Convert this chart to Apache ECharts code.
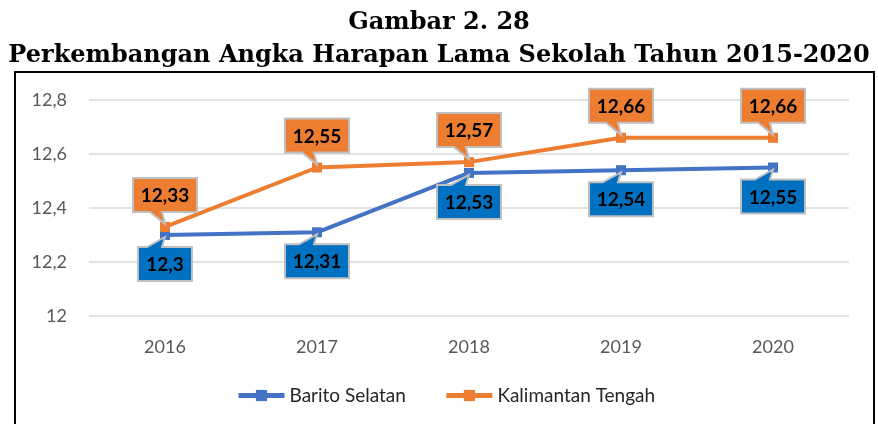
<!DOCTYPE html>
<html>
<head>
<meta charset="utf-8">
<script src="https://cdn.jsdelivr.net/npm/echarts@6/dist/echarts.min.js"></script>
<style>
  html, body { margin: 0; padding: 0; background: #fff; }
  #chart { width: 878px; height: 424px; }
</style>
</head>
<body>
<div id="chart"></div>
<script>
// data
var years = ["2016", "2017", "2018", "2019", "2020"];
var baritoSelatan = [12.3, 12.31, 12.53, 12.54, 12.55];
var kalteng = [12.33, 12.55, 12.57, 12.66, 12.66];
var seriesNames = ["Barito Selatan", "Kalimantan Tengah"];
var titleLines = ["Gambar 2. 28", "Perkembangan Angka Harapan Lama Sekolah Tahun 2015-2020"];

var BLUE_LINE = "#4472C4";
var BLUE_BOX = "#0070C0";
var ORANGE = "#ED7D31";

// comma as decimal sign
function fmt(v) {
  return String(v).replace(".", ",");
}

// callout boxes (excel style), drawn thru the chart coords
function callout(fill, above) {
  return function (params, api) {
    var val = api.value(1);
    var pt = api.coord([api.value(0), val]);
    var txt = fmt(val);
    var w = 14 + 10 * txt.length, h = 34;
    var cx = pt[0];
    var top, bot, poly;
    if (above) {
      bot = pt[1] - 15;
      top = bot - h;
      poly = [[cx - w / 2, top], [cx + w / 2, top], [cx + w / 2, bot],
        [cx - 3, bot], [pt[0], pt[1] - 3], [cx - 15, bot], [cx - w / 2, bot]];
    } else {
      top = pt[1] + 12;
      bot = top + h;
      poly = [[cx - w / 2, top], [cx - 18, top], [pt[0], pt[1] + 2], [cx - 3, top],
        [cx + w / 2, top], [cx + w / 2, bot], [cx - w / 2, bot]];
    }
    return {
      type: "group",
      children: [
        {
          type: "polygon",
          shape: { points: poly },
          style: { fill: fill, stroke: "#BFBFBF", lineWidth: 2 }
        },
        {
          type: "text",
          style: {
            x: cx, y: (top + bot) / 2 + 1,
            text: txt,
            align: "center", verticalAlign: "middle",
            fill: "#000",
            font: "bold 19px Lato"
          }
        }
      ]
    };
  };
}

function pairs(arr) {
  return arr.map(function (v, i) { return [i, v]; });
}

var chart = echarts.init(document.getElementById("chart"));
var option = {
  animation: false,
  title: [
    {
      text: titleLines[0], left: "center", top: 6,
      textStyle: { fontFamily: "DejaVu Serif", fontWeight: "bold", fontSize: 24, color: "#000" }
    },
    {
      text: titleLines[1], left: "center", top: 39,
      textStyle: { fontFamily: "DejaVu Serif", fontWeight: "bold", fontSize: 24, color: "#000" }
    }
  ],
  graphic: [
    {
      type: "polyline",
      shape: { points: [[15, 430], [15, 72], [874, 72], [874, 430]] },
      style: { stroke: "#000", lineWidth: 2, fill: null }
    }
  ],
  grid: { left: 89, right: 29, top: 100, bottom: 108 },
  legend: {
    top: 381, left: 231,
    itemWidth: 46, itemHeight: 14, itemGap: 38,
    data: seriesNames,
    lineStyle: { width: 5 },
    textStyle: { fontFamily: "Lato", fontSize: 19, color: "#262626" }
  },
  xAxis: {
    type: "category",
    data: years,
    axisLine: { show: false },
    axisTick: { show: false },
    axisLabel: { fontFamily: "Lato", fontSize: 18, color: "#595959", margin: 22 }
  },
  yAxis: {
    type: "value",
    min: 12, max: 12.8, interval: 0.2,
    axisLine: { show: false },
    axisTick: { show: false },
    splitLine: { lineStyle: { color: "#D9D9D9", width: 1.5 } },
    axisLabel: {
      fontFamily: "Lato", fontSize: 18, color: "#595959", margin: 22,
      formatter: function (v) { return fmt(Math.round(v * 10) / 10); }
    }
  },
  series: [
    {
      name: seriesNames[0], type: "line", data: baritoSelatan,
      symbol: "rect", symbolSize: 10,
      lineStyle: { color: BLUE_LINE, width: 4 },
      itemStyle: { color: BLUE_LINE },
      z: 2
    },
    {
      name: seriesNames[1], type: "line", data: kalteng,
      symbol: "rect", symbolSize: 10,
      lineStyle: { color: ORANGE, width: 4 },
      itemStyle: { color: ORANGE },
      z: 3
    },
    {
      type: "custom", renderItem: callout(BLUE_BOX, false),
      data: pairs(baritoSelatan), z: 10, silent: true
    },
    {
      type: "custom", renderItem: callout(ORANGE, true),
      data: pairs(kalteng), z: 10, silent: true
    }
  ]
};
chart.setOption(option);
</script>
</body>
</html>
